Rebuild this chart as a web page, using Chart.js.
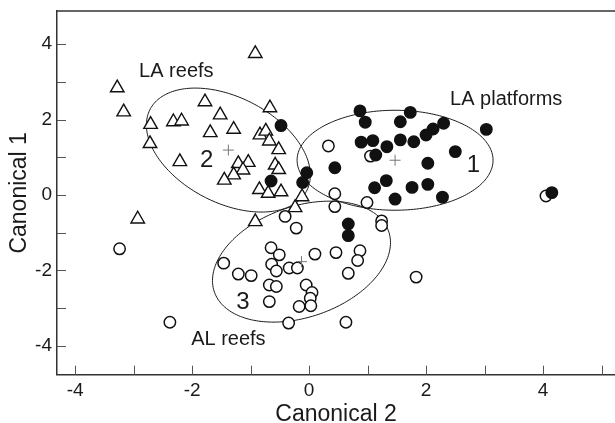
<!DOCTYPE html>
<html><head><meta charset="utf-8">
<script src="https://cdn.jsdelivr.net/npm/chart.js@4/dist/chart.umd.min.js"></script>
<style>html,body{margin:0;padding:0;background:#fff}#wrap{width:615px;height:423px}</style>
</head><body><div id="wrap"><canvas id="c" width="615" height="423"></canvas></div>
<script>
// ---- data ----
const laReefs = [[-0.92,3.75],[-3.28,2.84],[-3.17,2.20],[-2.71,1.87],[-2.72,1.36],[-2.32,1.94],[-2.18,1.96],[-1.78,2.47],[-1.52,2.12],[-1.69,1.65],[-1.29,1.74],[-2.21,0.88],[-0.67,2.31],[-0.84,1.59],[-0.74,1.69],[-0.68,1.43],[-0.52,1.20],[-1.21,0.83],[-1.04,0.86],[-1.13,0.66],[-1.29,0.53],[-1.45,0.39],[-0.58,0.79],[-0.52,0.67],[-0.85,0.14],[-0.70,0.04],[-0.48,0.08],[-0.12,-0.05],[-0.24,-0.34],[-0.92,-0.71],[-2.93,-0.64]];
const laPlatforms = [[-0.48,1.84],[-0.04,0.59],[-0.11,0.33],[-0.65,0.37],[0.87,2.23],[0.96,1.93],[1.73,2.19],[1.56,1.94],[2.30,1.90],[2.12,1.75],[2.00,1.59],[3.03,1.74],[0.89,1.40],[1.09,1.44],[1.33,1.28],[1.56,1.46],[1.79,1.41],[1.14,1.06],[2.50,1.15],[2.03,0.84],[0.44,0.72],[1.32,0.38],[1.12,0.19],[1.76,0.20],[2.03,0.28],[1.47,-0.11],[2.28,-0.06],[4.15,0.06],[0.67,-0.77],[0.67,-1.08]];
const alReefs = [[0.33,1.30],[1.05,1.03],[4.05,-0.03],[0.44,0.03],[0.99,-0.20],[0.44,-0.31],[1.24,-0.69],[1.24,-0.81],[-0.41,-0.57],[-0.22,-0.88],[-3.24,-1.43],[-2.38,-3.38],[-1.46,-1.81],[-1.21,-2.10],[-0.99,-2.14],[-0.65,-1.40],[-0.51,-1.59],[-0.64,-1.84],[-0.56,-2.02],[-0.34,-1.94],[-0.20,-1.94],[0.10,-1.57],[0.46,-1.53],[-0.68,-2.39],[-0.56,-2.43],[-0.05,-2.39],[0.05,-2.59],[0.02,-2.74],[-0.68,-2.83],[-0.17,-2.96],[0.03,-2.94],[-0.35,-3.40],[0.87,-1.48],[0.83,-1.74],[0.67,-2.08],[1.83,-2.18],[0.63,-3.38]];
const groupCentroids = [[1.47,0.92],[-1.38,1.19],[-0.13,-1.77]];
// ellipse covariance (data units): [sxx, syy, sxy]
const ellipseCov = [[2.806,1.759,0.0],[1.965,2.705,-0.930],[2.315,2.575,0.767]];
const groupNumbers = ['1','2','3'];
const groupNumberPos = [[2.81,0.82],[-1.75,0.95],[-1.13,-2.83]];
const groupNames = ['LA platforms','LA reefs','AL reefs'];
const groupNamePos = [[3.37,2.39],[-2.27,3.14],[-1.38,-3.98]];
const xRange = [-4.31, 5.23];
const yRange = [-4.77, 4.88];
const xTitle = 'Canonical 2';
const yTitle = 'Canonical 1';

const toPts = a => a.map(p => ({x:p[0], y:p[1]}));
const FONT = "'Liberation Sans', Arial, Helvetica, sans-serif";
const INK = '#1a1a1a';

const decor = {
  id:'decor',
  beforeDatasetsDraw(chart){
    const {ctx, scales:{x, y}} = chart;
    ctx.save();
    ctx.strokeStyle = INK; ctx.lineWidth = 1;
    groupCentroids.forEach((c,i)=>{
      const [sxx, syy, sxy] = ellipseCov[i];
      const L11 = Math.sqrt(sxx), L21 = sxy/L11, L22 = Math.sqrt(syy - L21*L21);
      ctx.beginPath();
      for(let k=0;k<=200;k++){
        const t = k/200*2*Math.PI, co=Math.cos(t), si=Math.sin(t);
        const px = x.getPixelForValue(c[0] + L11*co);
        const py = y.getPixelForValue(c[1] + L21*co + L22*si);
        if(k===0) ctx.moveTo(px,py); else ctx.lineTo(px,py);
      }
      ctx.closePath(); ctx.stroke();
    });
    ctx.restore();
  },
  afterDraw(chart){
    const {ctx, chartArea:a, scales:{x, y}} = chart;
    ctx.save();
    ctx.strokeStyle = '#333'; ctx.lineWidth = 1.5;
    ctx.beginPath(); ctx.moveTo(a.left-0.75, a.top); ctx.lineTo(chart.width, a.top); ctx.stroke();
    ctx.lineWidth = 1;
    ctx.strokeStyle = '#555';
    x.ticks.forEach(t=>{ const px = Math.round(x.getPixelForValue(t.value))+0.5; ctx.beginPath(); ctx.moveTo(px,a.bottom); ctx.lineTo(px,a.bottom-9); ctx.stroke(); });
    y.ticks.forEach(t=>{ const py = Math.round(y.getPixelForValue(t.value))+0.5; ctx.beginPath(); ctx.moveTo(a.left,py); ctx.lineTo(a.left+9,py); ctx.stroke(); });
    ctx.fillStyle = INK;
    ctx.textAlign = 'center';
    ctx.textBaseline = 'alphabetic';
    ctx.font = '20px ' + FONT;
    groupNames.forEach((n,i)=>{ ctx.fillText(n, x.getPixelForValue(groupNamePos[i][0]), y.getPixelForValue(groupNamePos[i][1])); });
    ctx.textBaseline = 'middle';
    ctx.font = '24px ' + FONT;
    groupNumbers.forEach((n,i)=>{ ctx.fillText(n, x.getPixelForValue(groupNumberPos[i][0]), y.getPixelForValue(groupNumberPos[i][1])+1); });
    ctx.restore();
  }
};

new Chart(document.getElementById('c'), {
  type:'scatter',
  data:{datasets:[
    {label:'LA platforms', data:toPts(laPlatforms), pointStyle:'circle', radius:5.7, backgroundColor:'#111', borderColor:'#111', borderWidth:1.5},
    {label:'Centroids', data:toPts(groupCentroids), pointStyle:'cross', radius:5.5, borderColor:'#777', borderWidth:1},
    {label:'LA reefs', data:toPts(laReefs), pointStyle:'triangle', radius:7.8, backgroundColor:'#fff', borderColor:'#111', borderWidth:1.4},
    {label:'AL reefs', data:toPts(alReefs), pointStyle:'circle', radius:5.7, backgroundColor:'#fff', borderColor:'#111', borderWidth:1.5}
  ]},
  options:{
    responsive:false, animation:false, devicePixelRatio:1,
    layout:{autoPadding:false, padding:{top:11, right:0, left:0, bottom:0}},
    plugins:{legend:{display:false}, tooltip:{enabled:false}},
    elements:{point:{hoverRadius:5.7}},
    scales:{
      x:{type:'linear', min:xRange[0], max:xRange[1],
        afterFit(s){ s.height = 48.3; s.paddingLeft = 0; s.paddingRight = 0; },
        grid:{display:false, drawTicks:false},
        border:{display:true, color:'#333', width:1.5},
        ticks:{stepSize:1, includeBounds:false, padding:5, color:INK, font:{family:FONT, size:19},
          callback:(v)=> (Math.round(v)%2===0 ? String(Math.round(v)) : '')},
        title:{display:true, text:xTitle, color:INK, font:{family:FONT, size:23, lineHeight:0.75}, padding:{top:0,bottom:0}}
      },
      y:{type:'linear', min:yRange[0], max:yRange[1],
        afterFit(s){ s.width = 57; s.paddingTop = 0; s.paddingBottom = 0; },
        grid:{display:false, drawTicks:false},
        border:{display:true, color:'#333', width:1.5},
        ticks:{stepSize:1, includeBounds:false, padding:5, color:INK, font:{family:FONT, size:19},
          callback:(v)=> (Math.round(v)%2===0 ? String(Math.round(v)) : '')},
        title:{display:true, text:yTitle, color:INK, font:{family:FONT, size:23, lineHeight:1}, padding:{top:8,bottom:0}}
      }
    }
  },
  plugins:[decor]
});
</script></body></html>
